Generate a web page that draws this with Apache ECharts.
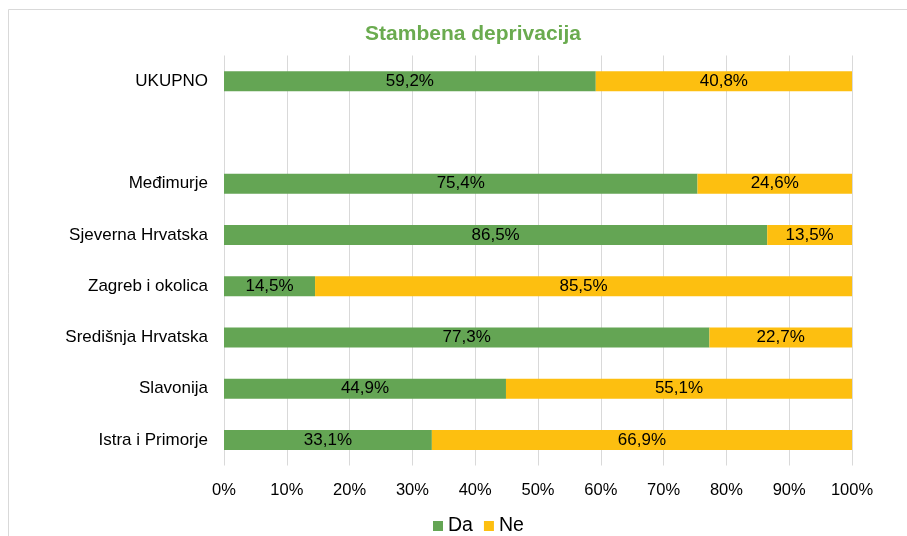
<!DOCTYPE html>
<html>
<head>
<meta charset="utf-8">
<script src="https://cdn.jsdelivr.net/npm/echarts@6/dist/echarts.min.js"></script>
<style>
  html, body { margin: 0; padding: 0; background: #fff; }
  #chart { width: 907px; height: 536px; }
</style>
</head>
<body>
<div id="chart"></div>
<script>
// Regions, top to bottom; the empty entry leaves a gap under the total row
const categories = ['UKUPNO', '', 'Međimurje', 'Sjeverna Hrvatska', 'Zagreb i okolica', 'Središnja Hrvatska', 'Slavonija', 'Istra i Primorje'];
const daValues = [59.2, null, 75.4, 86.5, 14.5, 77.3, 44.9, 33.1];
const neValues = [40.8, null, 24.6, 13.5, 85.5, 22.7, 55.1, 66.9];
const seriesNames = ['Da', 'Ne'];
const chartTitle = 'Stambena deprivacija';

const FONT = '"Liberation Sans", Arial, sans-serif';
const fmtPct = v => v.toFixed(1).replace('.', ',') + '%';

const chart = echarts.init(document.getElementById('chart'), null, { renderer: 'canvas' });

function barSeries(name, data, color) {
  return {
    name: name,
    type: 'bar',
    stack: 'total',
    barWidth: 20,
    data: data,
    itemStyle: { color: color },
    label: {
      show: true,
      position: 'inside',
      color: '#000',
      fontFamily: FONT,
      fontSize: 17,
      formatter: p => (p.value == null ? '' : fmtPct(p.value))
    },
    emphasis: { disabled: true }
  };
}

chart.setOption({
  animation: false,
  backgroundColor: '#fff',
  graphic: [{
    type: 'rect',
    shape: { x: 8.5, y: 9.5, width: 1000, height: 1000 },
    style: { fill: 'none', stroke: '#d9d9d9', lineWidth: 1 },
    silent: true
  }],
  title: {
    text: chartTitle,
    left: 468,
    top: 19,
    textAlign: 'center',
    textStyle: { color: '#6aab4f', fontFamily: FONT, fontSize: 21, fontWeight: 'bold' }
  },
  legend: {
    top: 511,
    left: 428,
    itemWidth: 10,
    itemHeight: 10,
    itemGap: 11,
    icon: 'rect',
    textStyle: { fontFamily: FONT, fontSize: 19.5, color: '#000' },
    data: seriesNames
  },
  grid: { left: 224, right: 55, top: 55.5, bottom: 70.5, containLabel: false },
  xAxis: {
    type: 'value',
    min: 0,
    max: 100,
    interval: 10,
    axisLine: { show: false },
    axisTick: { show: false },
    axisLabel: { fontFamily: FONT, fontSize: 16.5, color: '#000', margin: 16, formatter: v => v + '%' },
    splitLine: { lineStyle: { color: '#d9d9d9', width: 1 } }
  },
  yAxis: {
    type: 'category',
    inverse: true,
    data: categories,
    axisLine: { show: false },
    axisTick: { show: false },
    axisLabel: { fontFamily: FONT, fontSize: 17, color: '#000', margin: 16 }
  },
  series: [
    barSeries(seriesNames[0], daValues, '#64a554'),
    barSeries(seriesNames[1], neValues, '#fdbf10')
  ]
});
</script>
</body>
</html>
